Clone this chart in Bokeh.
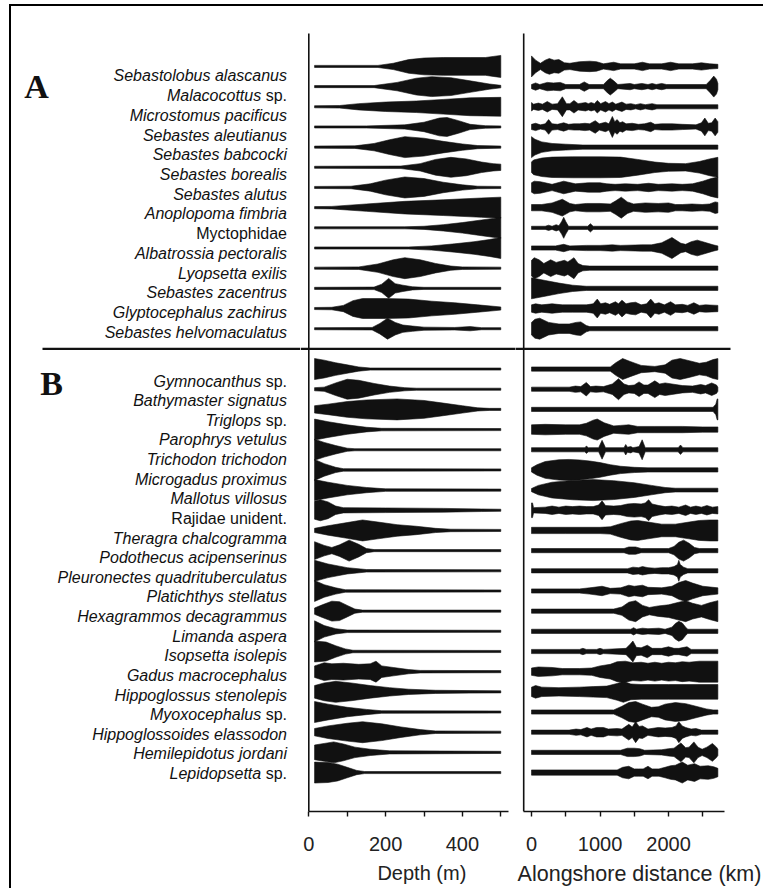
from bokeh.plotting import figure
from bokeh.models import Range1d, Span, FixedTicker
from bokeh.layouts import row
from bokeh.embed import file_html
from bokeh.resources import INLINE
from bokeh.core.properties import value

# ---------------- data ----------------
species_a = ["Sebastolobus alascanus", "Malacocottus sp.", "Microstomus pacificus",
             "Sebastes aleutianus", "Sebastes babcocki", "Sebastes borealis",
             "Sebastes alutus", "Anoplopoma fimbria", "Myctophidae",
             "Albatrossia pectoralis", "Lyopsetta exilis", "Sebastes zacentrus",
             "Glyptocephalus zachirus", "Sebastes helvomaculatus"]
species_b = ["Gymnocanthus sp.", "Bathymaster signatus", "Triglops sp.",
             "Parophrys vetulus", "Trichodon trichodon", "Microgadus proximus",
             "Mallotus villosus", "Rajidae unident.", "Theragra chalcogramma",
             "Podothecus acipenserinus", "Pleuronectes quadrituberculatus",
             "Platichthys stellatus", "Hexagrammos decagrammus", "Limanda aspera",
             "Isopsetta isolepis", "Gadus macrocephalus", "Hippoglossus stenolepis",
             "Myoxocephalus sp.", "Hippoglossoides elassodon", "Hemilepidotus jordani",
             "Lepidopsetta sp."]
upright_names = ["Myctophidae", "Rajidae unident."]

depth_ticks = [0, 100, 200, 300, 400, 500]
depth_tick_labels = {0: "0", 100: "", 200: "200", 300: "", 400: "400", 500: ""}
dist_ticks = [0, 500, 1000, 1500, 2000, 2500]
dist_tick_labels = {0: "0", 500: "", 1000: "1000", 1500: "", 2000: "2000", 2500: ""}

# relative density profiles: (depth m, density) and (alongshore km, density)
depth_profiles = {
    "Sebastolobus alascanus": [(15,0.1),(180,0.1),(220,0.3),(260,0.65),(300,0.8),(350,0.85),(420,0.85),(460,0.85),(480,0.95),(500,1.05)],
    "Malacocottus sp.": [(15,0.1),(170,0.1),(230,0.4),(280,0.8),(320,0.95),(370,0.85),(420,0.55),(470,0.25),(500,0.12)],
    "Microstomus pacificus": [(15,0.1),(80,0.12),(130,0.3),(200,0.45),(280,0.55),(350,0.7),(420,0.85),(500,0.9)],
    "Sebastes aleutianus": [(15,0.1),(150,0.1),(250,0.2),(300,0.45),(340,0.85),(360,0.9),(390,0.6),(420,0.25),(460,0.12),(500,0.1)],
    "Sebastes babcocki": [(15,0.1),(120,0.12),(170,0.35),(210,0.7),(250,1.0),(300,0.85),(350,0.55),(400,0.3),(440,0.15),(500,0.1)],
    "Sebastes borealis": [(15,0.1),(240,0.12),(290,0.35),(330,0.75),(370,0.95),(410,0.8),(450,0.5),(480,0.35),(500,0.3)],
    "Sebastes alutus": [(15,0.1),(110,0.12),(160,0.35),(200,0.7),(250,1.0),(300,0.85),(350,0.5),(400,0.25),(440,0.12),(500,0.1)],
    "Anoplopoma fimbria": [(15,0.1),(60,0.12),(150,0.35),(250,0.6),(350,0.75),(450,0.92),(500,1.0)],
    "Myctophidae": [(15,0.1),(250,0.1),(300,0.15),(350,0.3),(400,0.5),(450,0.75),(480,0.9),(500,1.0)],
    "Albatrossia pectoralis": [(15,0.1),(260,0.1),(320,0.2),(380,0.4),(430,0.6),(470,0.8),(500,1.0)],
    "Lyopsetta exilis": [(15,0.1),(130,0.12),(180,0.4),(220,0.8),(250,1.0),(290,0.8),(330,0.45),(370,0.2),(400,0.12),(500,0.1)],
    "Sebastes zacentrus": [(15,0.1),(170,0.12),(190,0.4),(208,0.95),(225,0.45),(245,0.3),(270,0.15),(300,0.1),(500,0.1)],
    "Glyptocephalus zachirus": [(15,0.1),(60,0.12),(90,0.3),(115,0.75),(140,0.95),(200,0.95),(260,0.9),(320,0.7),(380,0.55),(440,0.35),(500,0.15)],
    "Sebastes helvomaculatus": [(15,0.1),(165,0.12),(185,0.5),(205,1.0),(225,0.6),(245,0.35),(270,0.25),(300,0.15),(380,0.12),(420,0.2),(450,0.1),(500,0.1)],
    "Gymnocanthus sp.": [(15,1.0),(40,0.85),(70,0.6),(100,0.4),(130,0.2),(160,0.1),(500,0.1)],
    "Bathymaster signatus": [(15,0.15),(40,0.2),(70,0.6),(100,0.95),(130,0.85),(170,0.55),(210,0.3),(250,0.15),(280,0.1),(500,0.1)],
    "Triglops sp.": [(15,0.35),(50,0.5),(100,0.75),(150,0.9),(230,1.0),(300,0.85),(350,0.6),(400,0.35),(440,0.15),(470,0.1),(500,0.1)],
    "Parophrys vetulus": [(15,1.0),(50,0.75),(100,0.45),(150,0.22),(190,0.12),(500,0.1)],
    "Trichodon trichodon": [(15,1.0),(40,0.7),(70,0.4),(100,0.15),(120,0.1),(500,0.1)],
    "Microgadus proximus": [(15,1.0),(40,0.6),(70,0.25),(90,0.12),(500,0.1)],
    "Mallotus villosus": [(15,1.0),(50,0.75),(100,0.45),(150,0.25),(200,0.12),(500,0.1)],
    "Rajidae unident.": [(15,0.85),(30,1.0),(50,0.8),(70,0.4),(90,0.25),(200,0.22),(350,0.18),(450,0.12),(500,0.1)],
    "Theragra chalcogramma": [(15,0.2),(50,0.45),(100,0.75),(140,1.0),(180,0.8),(230,0.55),(280,0.4),(330,0.2),(370,0.12),(500,0.1)],
    "Podothecus acipenserinus": [(15,0.85),(40,0.5),(60,0.3),(80,0.55),(105,1.0),(130,0.6),(150,0.2),(170,0.1),(500,0.1)],
    "Pleuronectes quadrituberculatus": [(15,1.0),(50,0.65),(100,0.3),(150,0.12),(500,0.1)],
    "Platichthys stellatus": [(15,1.0),(40,0.6),(70,0.3),(95,0.12),(500,0.1)],
    "Hexagrammos decagrammus": [(15,0.3),(35,0.6),(60,0.95),(80,0.9),(100,0.55),(120,0.2),(140,0.1),(500,0.1)],
    "Limanda aspera": [(15,1.0),(40,0.55),(70,0.25),(100,0.12),(500,0.1)],
    "Isopsetta isolepis": [(15,1.0),(45,0.9),(70,0.55),(95,0.25),(115,0.12),(500,0.1)],
    "Gadus macrocephalus": [(15,0.55),(40,0.85),(60,0.75),(90,0.8),(130,0.7),(160,0.75),(175,1.0),(190,0.55),(220,0.4),(260,0.2),(290,0.12),(500,0.1)],
    "Hippoglossus stenolepis": [(15,0.6),(40,0.85),(70,1.0),(110,0.85),(160,0.6),(210,0.4),(260,0.25),(330,0.15),(420,0.12),(500,0.1)],
    "Myoxocephalus sp.": [(15,1.0),(50,0.75),(100,0.45),(150,0.25),(190,0.12),(500,0.1)],
    "Hippoglossoides elassodon": [(15,0.35),(50,0.6),(100,0.85),(140,1.0),(190,0.8),(240,0.5),(290,0.25),(330,0.12),(500,0.1)],
    "Hemilepidotus jordani": [(15,0.7),(40,0.85),(65,1.0),(90,0.8),(120,0.5),(160,0.3),(210,0.15),(500,0.1)],
    "Lepidopsetta sp.": [(15,1.0),(50,0.95),(75,0.8),(100,0.5),(125,0.2),(145,0.1),(500,0.1)],
}

distance_profiles = {
    "Sebastolobus alascanus": [(0,1.0),(60,0.6),(130,0.3),(200,0.6),(260,0.75),(330,0.6),(400,0.65),(480,0.35),(560,0.3),(700,0.45),(850,0.5),(950,0.45),(1050,0.25),(1200,0.4),(1300,0.25),(1500,0.25),(1620,0.4),(1720,0.25),(1900,0.25),(2030,0.4),(2150,0.25),(2350,0.25),(2480,0.35),(2600,0.25),(2720,0.2)],
    "Malacocottus sp.": [(0,0.2),(60,0.35),(120,0.2),(230,0.4),(320,0.35),(420,0.4),(500,0.2),(700,0.2),(770,0.45),(840,0.2),(1050,0.2),(1110,0.6),(1150,0.8),(1200,0.55),(1260,0.2),(1440,0.3),(1500,0.2),(1610,0.3),(1700,0.2),(1760,0.3),(1820,0.2),(1900,0.3),(1970,0.2),(2550,0.2),(2610,0.6),(2660,1.0),(2700,0.7),(2720,0.3)],
    "Microstomus pacificus": [(0,0.4),(30,0.25),(100,0.35),(160,0.25),(230,0.5),(300,0.25),(380,0.3),(450,0.95),(510,0.3),(560,0.3),(620,0.6),(680,0.3),(790,0.4),(830,0.3),(870,0.4),(920,0.3),(960,0.6),(1010,0.3),(1080,0.5),(1130,0.3),(1180,0.45),(1230,0.25),(1320,0.45),(1380,0.25),(1450,0.3),(1520,0.2),(1590,0.3),(1660,0.2),(1760,0.3),(1830,0.2),(2720,0.2)],
    "Sebastes aleutianus": [(0,0.25),(60,0.35),(130,0.2),(200,0.3),(250,0.7),(300,0.3),(380,0.25),(470,0.4),(540,0.25),(620,0.3),(700,0.3),(780,0.35),(850,0.3),(930,0.6),(990,0.3),(1080,0.45),(1130,0.3),(1180,1.0),(1215,0.5),(1250,0.7),(1290,0.4),(1330,0.5),(1380,0.3),(1470,0.35),(1560,0.25),(1650,0.3),(1740,0.45),(1800,0.25),(1900,0.3),(2050,0.3),(2200,0.25),(2400,0.2),(2480,0.4),(2530,0.85),(2580,0.35),(2630,0.4),(2680,0.85),(2720,0.5)],
    "Sebastes babcocki": [(0,1.0),(50,0.75),(150,0.5),(300,0.35),(500,0.28),(750,0.2),(2720,0.2)],
    "Sebastes borealis": [(0,0.5),(30,0.7),(150,0.88),(300,0.97),(600,1.0),(1000,1.0),(1300,0.97),(1550,0.75),(1800,0.5),(2000,0.38),(2250,0.35),(2450,0.55),(2600,0.8),(2720,0.95)],
    "Sebastes alutus": [(0,0.45),(40,0.6),(130,0.55),(300,0.3),(470,0.6),(640,0.35),(830,0.45),(1000,0.45),(1100,0.35),(1220,0.3),(1370,0.35),(1550,0.3),(1710,0.4),(1850,0.3),(2050,0.35),(2200,0.3),(2350,0.35),(2500,0.6),(2620,0.85),(2720,1.0)],
    "Anoplopoma fimbria": [(0,0.3),(150,0.3),(300,0.45),(450,0.8),(560,0.4),(640,0.3),(800,0.4),(1000,0.4),(1150,0.35),(1230,0.65),(1310,1.0),(1400,0.55),(1490,0.35),(1660,0.45),(1850,0.4),(2000,0.45),(2100,0.3),(2200,0.3),(2340,0.35),(2490,0.3),(2600,0.35),(2680,0.55),(2720,0.5)],
    "Myctophidae": [(0,0.15),(200,0.15),(250,0.25),(300,0.15),(360,0.3),(400,0.2),(440,0.6),(470,1.0),(500,0.6),(540,0.15),(820,0.15),(860,0.4),(900,0.15),(2720,0.15)],
    "Albatrossia pectoralis": [(0,0.2),(350,0.2),(470,0.35),(560,0.2),(800,0.25),(1000,0.25),(1180,0.3),(1300,0.25),(1610,0.3),(1750,0.3),(1900,0.5),(2050,1.0),(2180,0.45),(2250,0.35),(2330,0.6),(2420,0.75),(2550,0.5),(2650,0.3),(2720,0.2)],
    "Lyopsetta exilis": [(0,0.75),(40,1.0),(110,0.8),(180,0.45),(280,0.8),(360,0.55),(480,0.75),(530,0.6),(620,1.0),(680,0.45),(750,0.25),(850,0.2),(2720,0.2)],
    "Sebastes zacentrus": [(0,1.0),(200,0.75),(400,0.5),(600,0.3),(800,0.2),(2720,0.2)],
    "Glyptocephalus zachirus": [(0,0.35),(60,0.45),(150,0.35),(300,0.45),(450,0.35),(600,0.35),(800,0.35),(900,0.45),(960,0.9),(1010,0.45),(1080,0.55),(1140,0.4),(1225,0.65),(1270,0.45),(1320,0.8),(1380,0.45),(1445,0.55),(1520,0.6),(1600,0.35),(1680,0.45),(1740,0.9),(1800,0.45),(1860,0.55),(1940,0.35),(2030,0.65),(2100,0.35),(2200,0.4),(2280,0.3),(2370,0.55),(2450,0.3),(2540,0.35),(2720,0.3)],
    "Sebastes helvomaculatus": [(0,0.6),(50,0.9),(120,1.0),(250,0.6),(400,0.45),(550,0.45),(650,0.6),(720,0.65),(800,0.3),(850,0.2),(2720,0.2)],
    "Gymnocanthus sp.": [(0,0.2),(1150,0.2),(1230,0.6),(1330,1.0),(1450,0.7),(1600,0.35),(1800,0.25),(1950,0.4),(2050,0.85),(2170,1.0),(2300,0.8),(2450,0.55),(2550,0.65),(2650,0.9),(2720,1.0)],
    "Bathymaster signatus": [(0,0.2),(550,0.2),(640,0.3),(720,0.25),(800,0.65),(860,0.25),(940,0.3),(1050,0.25),(1180,0.5),(1270,1.0),(1350,0.5),(1420,0.35),(1500,0.4),(1570,0.7),(1640,0.4),(1700,0.4),(1800,0.8),(1870,0.5),(1950,0.6),(2050,0.5),(2200,0.35),(2350,0.3),(2470,0.45),(2540,0.35),(2630,0.6),(2700,0.4),(2720,0.2)],
    "Triglops sp.": [(0,0.2),(2650,0.2),(2690,0.5),(2710,1.0),(2720,1.0)],
    "Parophrys vetulus": [(0,0.45),(200,0.5),(500,0.45),(700,0.45),(800,0.6),(900,0.9),(960,1.0),(1060,0.65),(1200,0.35),(1300,0.4),(1420,0.45),(1550,0.3),(1800,0.3),(2200,0.3),(2500,0.25),(2720,0.25)],
    "Trichodon trichodon": [(0,0.2),(780,0.2),(800,0.35),(830,0.2),(980,0.2),(1030,0.9),(1080,0.2),(1350,0.2),(1375,0.5),(1400,0.25),(1450,0.3),(1480,0.2),(1570,0.3),(1615,0.95),(1660,0.2),(2140,0.2),(2175,0.45),(2210,0.2),(2720,0.2)],
    "Microgadus proximus": [(0,0.2),(80,0.5),(200,0.8),(400,0.97),(550,1.0),(700,0.95),(850,0.85),(1000,0.7),(1150,0.5),(1300,0.35),(1500,0.25),(1700,0.2),(2720,0.2)],
    "Mallotus villosus": [(0,0.15),(100,0.45),(300,0.75),(600,0.92),(900,1.0),(1200,0.9),(1500,0.7),(1750,0.45),(1950,0.25),(2100,0.18),(2720,0.18)],
    "Rajidae unident.": [(0,0.7),(15,0.7),(30,0.25),(200,0.3),(300,0.4),(400,0.3),(500,0.4),(600,0.35),(700,0.4),(800,0.35),(900,0.35),(980,0.5),(1030,0.9),(1080,0.45),(1200,0.4),(1300,0.45),(1400,0.6),(1500,0.65),(1600,0.6),(1660,0.7),(1710,1.0),(1760,0.6),(1860,0.45),(1950,0.35),(2050,0.4),(2150,0.3),(2250,0.5),(2320,0.3),(2400,0.4),(2480,0.3),(2560,0.45),(2640,0.3),(2720,0.35)],
    "Theragra chalcogramma": [(0,0.3),(500,0.3),(1000,0.3),(1150,0.35),(1300,0.65),(1450,0.9),(1550,0.95),(1700,0.8),(1900,0.6),(2100,0.6),(2300,0.8),(2450,0.95),(2600,1.0),(2720,1.0)],
    "Podothecus acipenserinus": [(0,0.2),(1350,0.2),(1420,0.35),(1520,0.35),(1600,0.2),(2000,0.2),(2080,0.4),(2150,0.8),(2220,1.0),(2300,0.7),(2380,0.3),(2450,0.2),(2720,0.2)],
    "Pleuronectes quadrituberculatus": [(0,0.2),(1400,0.2),(1480,0.35),(1560,0.3),(1620,0.4),(1700,0.3),(1800,0.25),(1900,0.3),(2000,0.3),(2080,0.4),(2130,0.6),(2150,1.0),(2170,0.6),(2220,0.35),(2280,0.2),(2720,0.2)],
    "Platichthys stellatus": [(0,0.2),(700,0.2),(850,0.3),(1030,0.45),(1150,0.25),(1300,0.3),(1420,0.55),(1500,0.45),(1620,0.55),(1700,0.35),(1900,0.3),(2050,0.45),(2150,0.8),(2250,1.0),(2350,0.75),(2500,0.45),(2720,0.3)],
    "Hexagrammos decagrammus": [(0,0.2),(1200,0.2),(1320,0.4),(1420,0.85),(1520,1.0),(1620,0.55),(1720,0.35),(1850,0.5),(2000,0.6),(2150,0.85),(2250,1.0),(2350,0.75),(2480,0.55),(2600,0.8),(2720,1.0)],
    "Limanda aspera": [(0,0.2),(1450,0.2),(1490,0.35),(1530,0.2),(1620,0.3),(1700,0.25),(1860,0.3),(1950,0.2),(2050,0.4),(2100,0.75),(2150,0.95),(2200,0.8),(2250,0.4),(2280,0.2),(2720,0.2)],
    "Isopsetta isolepis": [(0,0.2),(700,0.2),(750,0.3),(800,0.2),(950,0.2),(1000,0.3),(1050,0.2),(1380,0.3),(1440,0.7),(1480,1.0),(1530,0.4),(1600,0.35),(1690,0.6),(1760,0.3),(1900,0.3),(2000,0.45),(2080,0.3),(2150,0.3),(2270,0.45),(2330,0.2),(2720,0.2)],
    "Gadus macrocephalus": [(0,0.35),(100,0.45),(300,0.4),(450,0.3),(700,0.3),(880,0.35),(1000,0.55),(1150,0.7),(1250,0.95),(1370,1.0),(1480,0.85),(1600,0.9),(1700,0.8),(1800,0.9),(1900,0.8),(2000,0.9),(2100,0.85),(2200,0.95),(2300,0.9),(2450,1.0),(2720,1.0)],
    "Hippoglossus stenolepis": [(0,0.45),(60,0.6),(150,0.45),(400,0.4),(700,0.45),(900,0.5),(1100,0.55),(1250,0.8),(1340,1.0),(1450,0.75),(1600,0.7),(2000,0.7),(2400,0.7),(2720,0.7)],
    "Myoxocephalus sp.": [(0,0.2),(1200,0.2),(1320,0.55),(1420,0.9),(1520,1.0),(1620,0.75),(1750,0.45),(1850,0.5),(1950,0.75),(2100,0.9),(2250,0.8),(2400,0.55),(2550,0.3),(2650,0.2),(2720,0.2)],
    "Hippoglossoides elassodon": [(0,0.2),(550,0.2),(650,0.3),(720,0.25),(810,0.45),(870,0.3),(950,0.45),(1050,0.45),(1120,0.3),(1250,0.35),(1320,0.3),(1420,0.75),(1470,0.5),(1520,1.0),(1570,0.55),(1620,0.6),(1700,0.3),(1850,0.45),(1950,0.4),(2050,0.45),(2110,0.6),(2150,1.0),(2200,0.6),(2250,0.45),(2330,0.3),(2400,0.35),(2480,0.2),(2720,0.2)],
    "Hemilepidotus jordani": [(0,0.2),(1300,0.2),(1400,0.4),(1500,0.4),(1580,0.35),(1650,0.2),(1900,0.25),(2000,0.35),(2080,0.4),(2180,0.9),(2250,0.45),(2300,0.5),(2370,1.0),(2430,0.5),(2490,0.3),(2560,0.5),(2640,0.85),(2700,0.5),(2720,0.3)],
    "Lepidopsetta sp.": [(0,0.25),(1250,0.25),(1330,0.5),(1420,0.6),(1500,0.35),(1560,0.35),(1630,0.35),(1700,0.6),(1760,0.35),(1860,0.35),(1950,0.5),(2030,0.65),(2100,0.7),(2200,1.0),(2280,0.7),(2380,0.85),(2460,0.6),(2580,0.65),(2660,0.55),(2720,0.4)],
}

# ---------------- layout constants (page pixels) ----------------
ROW0_PX = 66.0        # page y of first row
PITCH = 20.2          # px between rows
HALF = 0.52           # half-height (rows) of density 1
CANVAS_TOP = 6        # 4px margin + 2px border line
CANVAS_LEFT = 11      # 9px margin + 2px border line
FRAME_BOTTOM_PX = 812.0
BOTTOM = 76
H = int(FRAME_BOTTOM_PX - CANVAS_TOP) + BOTTOM
INK = "#111111"
FONT = "Liberation Sans"
NBSP = "\u00a0"

def r_of(py):
    return (py - ROW0_PX) / PITCH

rows = {}
for i, s in enumerate(species_a):
    rows[s] = i
for j, s in enumerate(species_b):
    rows[s] = 15 + j
sep_row = 14

y_shared = Range1d(r_of(FRAME_BOTTOM_PX), r_of(CANVAS_TOP))

def base_fig(width, x_range, bottom):
    p = figure(width=width, height=H, x_range=x_range, y_range=y_shared,
               output_backend="svg", toolbar_location=None,
               min_border_left=0, min_border_right=0, min_border_top=0,
               min_border_bottom=bottom, y_axis_location=None)
    p.outline_line_color = None
    p.xgrid.visible = False
    p.ygrid.visible = False
    p.background_fill_color = "white"
    p.border_fill_color = "white"
    return p

def style_axis(ax, ticks, labels, bounds, title, title_size):
    ax.ticker = FixedTicker(ticks=ticks)
    ax.major_label_overrides = labels
    ax.bounds = bounds
    ax.axis_line_width = 1.6
    ax.axis_line_color = INK
    ax.major_tick_line_width = 1.4
    ax.major_tick_line_color = INK
    ax.major_tick_in = 0
    ax.major_tick_out = 5
    ax.minor_tick_line_color = None
    ax.major_label_text_font = FONT
    ax.major_label_text_font_size = "20px"
    ax.major_label_text_color = "#222222"
    ax.major_label_standoff = 20
    ax.axis_label = title
    ax.axis_label_text_font = FONT
    ax.axis_label_text_font_size = title_size
    ax.axis_label_text_font_style = "normal"
    ax.axis_label_text_color = "#222222"
    ax.axis_label_standoff = 8

def shape(knots, r):
    xs = [k[0] for k in knots]
    top = [r - HALF * k[1] for k in knots]
    bot = [r + HALF * k[1] for k in knots]
    return xs + xs[::-1], top + bot[::-1]

def draw_profiles(p, profiles):
    xs_all, ys_all = [], []
    for s in species_a + species_b:
        xs, ys = shape(profiles[s], rows[s])
        xs_all.append(xs)
        ys_all.append(ys)
    p.patches(xs_all, ys_all, fill_color=INK, line_color=INK, line_width=0.6)

# ---------------- label panel ----------------
L_RIGHT = 300
pl = base_fig(L_RIGHT - CANVAS_LEFT, Range1d(CANVAS_LEFT, L_RIGHT), BOTTOM)
pl.xaxis.visible = False

LABEL_X = 286.5
sp_w = 16 * (278 + 500 + 556 + 278) / 1000.0  # width of " sp." (Arial metrics)
lab_ital = {"x": [], "y": [], "t": []}
lab_up = {"x": [], "y": [], "t": []}
label_py = {}
for i, s in enumerate(species_a):
    label_py[s] = 75.5 + 19.75 * i
for j, s in enumerate(species_b):
    label_py[s] = 381.0 + 19.65 * j
for s in species_a + species_b:
    y = r_of(label_py[s])
    if s in upright_names:
        lab_up["x"].append(LABEL_X); lab_up["y"].append(y); lab_up["t"].append(s)
    elif s.endswith(" sp."):
        lab_up["x"].append(LABEL_X); lab_up["y"].append(y); lab_up["t"].append("sp.")
        lab_ital["x"].append(LABEL_X - sp_w); lab_ital["y"].append(y); lab_ital["t"].append(s[:-4])
    else:
        lab_ital["x"].append(LABEL_X); lab_ital["y"].append(y); lab_ital["t"].append(s)

pl.text(x=lab_ital["x"], y=lab_ital["y"], text=lab_ital["t"], text_font=value(FONT),
        text_font_style="italic", text_font_size="16px", text_align="right",
        text_baseline="middle", text_color=INK)
pl.text(x=lab_up["x"], y=lab_up["y"], text=lab_up["t"], text_font=value(FONT),
        text_font_style="normal", text_font_size="16px", text_align="right",
        text_baseline="middle", text_color=INK)
pl.text(x=[36, 51], y=[r_of(86), r_of(383)], text=["A", "B"],
        text_font=value("Liberation Serif"), text_font_style="bold",
        text_font_size="34px", text_align="center", text_baseline="middle",
        text_color=INK)
pl.segment(x0=[42], y0=[sep_row], x1=[L_RIGHT + 2], y1=[sep_row], line_width=2.2, line_color=INK)

# ---------------- depth panel ----------------
D_LEFT, D_RIGHT = 300, 515
D0_PX, D_SCALE = 308.3, 0.384   # page x of 0 m, px per m
pd_ = base_fig(D_RIGHT - D_LEFT,
               Range1d((D_LEFT - D0_PX) / D_SCALE, (D_RIGHT - D0_PX) / D_SCALE), BOTTOM)
style_axis(pd_.xaxis[0], depth_ticks, depth_tick_labels, (0, 520),
           NBSP * 5 + "Depth (m)", "20px")
draw_profiles(pd_, depth_profiles)
pd_.segment(x0=[0], y0=[r_of(33)], x1=[0], y1=[r_of(FRAME_BOTTOM_PX)], line_width=1.6, line_color=INK)
pd_.add_layout(Span(location=sep_row, dimension="width", line_width=2.2, line_color=INK))

# ---------------- alongshore panel ----------------
A_LEFT, A_RIGHT = 515, 763
A0_PX, A_SCALE = 531.0, 0.06852   # page x of 0 km, px per km
pa = base_fig(A_RIGHT - A_LEFT,
              Range1d((A_LEFT - A0_PX) / A_SCALE, (A_RIGHT - A0_PX) / A_SCALE), BOTTOM)
axis_start = (523.2 - A0_PX) / A_SCALE
style_axis(pa.xaxis[0], dist_ticks, dist_tick_labels, (axis_start, 2817),
           "Alongshore distance (km)", "21.5px")
draw_profiles(pa, distance_profiles)
pa.segment(x0=[axis_start], y0=[r_of(33)], x1=[axis_start], y1=[r_of(FRAME_BOTTOM_PX)], line_width=1.6, line_color=INK)
pa.segment(x0=[(A_LEFT - 2 - A0_PX) / A_SCALE], y0=[sep_row], x1=[(730 - A0_PX) / A_SCALE], y1=[sep_row], line_width=2.2, line_color=INK)

layout = row(pl, pd_, pa, styles={"margin-left": "9px", "margin-top": "4px",
                                  "border-left": "2px solid #000",
                                  "border-top": "2px solid #000"})
open("out.html", "w").write(file_html(layout, INLINE))
